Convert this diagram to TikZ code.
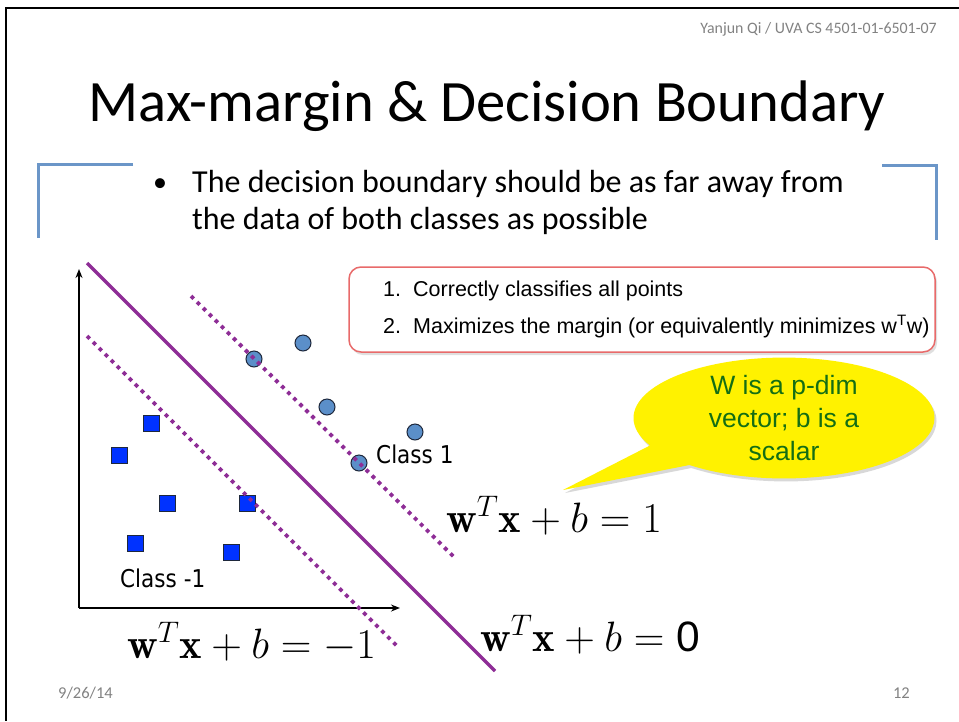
\documentclass[tikz,border=0pt]{standalone}
\usepackage{fix-cm}
\usepackage{fontspec}
\newfontfamily\calibri{Carlito}
\newfontfamily\arialf{Liberation Sans}
\newfontfamily\verdanaf[FakeStretch=0.88]{DejaVu Sans}
\usetikzlibrary{shapes.callouts,shadows,arrows.meta}
\definecolor{purp}{RGB}{142,45,150}
\definecolor{steel}{RGB}{91,143,201}
\definecolor{dotline}{RGB}{30,40,60}
\definecolor{sqblue}{RGB}{0,50,255}
\definecolor{brk}{RGB}{107,150,200}
\definecolor{redb}{RGB}{232,106,106}
\definecolor{cgreen}{RGB}{20,110,20}
\definecolor{graytxt}{RGB}{130,130,130}
\tikzset{
  circpt/.style={circle, draw=dotline, fill=steel, minimum size=16, inner sep=0pt, line width=1},
  sqpt/.style={rectangle, draw=dotline, fill=sqblue, minimum size=16, inner sep=0pt, line width=0.6},
  margin/.style={purp, line width=3.8, dash pattern=on 3.8pt off 4.7pt},
  bracket/.style={brk, line width=3},
  axis/.style={line width=1.5, -{Stealth[length=9,width=7]}},
  eq/.style={anchor=base west, inner sep=0pt, font=\fontsize{42.5}{46}\selectfont},
  cls/.style={anchor=base west, inner sep=0pt, font=\verdanaf\fontsize{24.5}{28}\selectfont},
  boxtxt/.style={anchor=base west, inner sep=0pt, font=\arialf\fontsize{21.5}{24}\selectfont},
  foot/.style={inner sep=0pt, text=graytxt, font=\calibri\fontsize{16.5}{18}\selectfont}
}
\begin{document}
\begin{tikzpicture}[x=1pt,y=-1pt]
\useasboundingbox (0,0) rectangle (959,721);
\fill[white] (0,0) rectangle (959,721);
% slide frame
\coordinate (ftr) at (959,8);
\coordinate (ftl) at (6,8);
\coordinate (fbl) at (6,721);
\draw[line width=2.5] (ftr) -- (ftl) -- (fbl);
% header
\node[foot, anchor=base east, font=\calibri\fontsize{15.9}{18}\selectfont] (hdr) at (937,33) {Yanjun Qi / UVA CS 4501-01-6501-07};
% title
\node[anchor=base, inner sep=0pt, font=\calibri\fontsize{58.6}{62}\selectfont] (title) at (487,121) {Max-margin \& Decision Boundary};
% brackets
\coordinate (lb1) at (133,164); \coordinate (lb2) at (38,164); \coordinate (lb3) at (38,238);
\coordinate (rb1) at (882,165); \coordinate (rb2) at (936,165); \coordinate (rb3) at (936,240);
\draw[bracket] (lb1) -- (lb2) -- (lb3);
\draw[bracket] (rb1) -- (rb2) -- (rb3);
% bullet
\node[anchor=base, inner sep=0pt, font=\calibri\fontsize{28}{36}\selectfont] (bul) at (160,191) {•};
\node[anchor=base west, inner sep=0pt, font=\calibri\fontsize{32}{36}\selectfont] (bl1) at (192,192) {The decision boundary should be as far away from};
\node[anchor=base west, inner sep=0pt, font=\calibri\fontsize{32}{36}\selectfont] (bl2) at (192,229) {the data of both classes as possible};
% criteria box
\node[draw=redb, line width=1.5, rounded corners=12, fill=white,
      drop shadow={opacity=0.25, shadow xshift=2pt, shadow yshift=-3pt},
      minimum width=586, minimum height=85] (crit) at (642,309.5) {};
\node[boxtxt] (n1) at (383,296) {1.};
\node[boxtxt] (t1) at (413,296) {Correctly classifies all points};
\node[boxtxt] (n2) at (383,333) {2.};
\node[boxtxt] (t2) at (413,333) {Maximizes the margin (or equivalently minimizes w\textsuperscript{T}w)};
% callout
\coordinate (tip) at (563,490);
\node[ellipse callout, fill=yellow, draw=none, minimum width=301, minimum height=107,
      callout absolute pointer={(tip)}, callout pointer arc=24,
      drop shadow={opacity=0.3, shadow xshift=2pt, shadow yshift=-3pt},
      text=cgreen, align=center, inner sep=0pt,
      font=\arialf\fontsize{26.5}{33}\selectfont] (bubble) at (784,418) {W is a p-dim\\vector; b is a\\scalar};
% axes
\coordinate (orig) at (79,608);
\coordinate (ytop) at (79,269);
\coordinate (xend) at (400,608);
\draw[axis] (orig) -- (ytop);
\draw[axis] (orig) -- (xend);
% class 1 points
\node[circpt] (c1) at (254,359) {};
\node[circpt] (c2) at (303,343) {};
\node[circpt] (c3) at (327,407) {};
\node[circpt] (c4) at (415,432) {};
\node[circpt] (c5) at (359,463) {};
% class -1 points
\node[sqpt] (s1) at (151,423) {};
\node[sqpt] (s2) at (119,455) {};
\node[sqpt] (s3) at (167,503) {};
\node[sqpt] (s4) at (247,503) {};
\node[sqpt] (s5) at (135,543) {};
\node[sqpt] (s6) at (231,552) {};
% boundary lines
\coordinate (d0a) at (87,263); \coordinate (d0b) at (495,671);
\coordinate (dpa) at (191,296); \coordinate (dpb) at (455,558);
\coordinate (dma) at (87,336); \coordinate (dmb) at (399,648);
\draw[purp, line width=3.5] (d0a) -- (d0b);
\draw[margin] (dpa) -- (dpb);
\draw[margin] (dma) -- (dmb);
% labels
\node[cls] (lc1) at (376,463) {Class 1};
\node[cls] (lcm) at (120,587) {Class -1};
\node[eq] (e1) at (446,532) {$\mathbf{w}^T\mathbf{x}+b=1$};
\node[eq] (e0) at (480,651) {$\mathbf{w}^T\mathbf{x}+b=\mbox{\arialf 0}$};
\node[eq] (em) at (127,658) {$\mathbf{w}^T\mathbf{x}+b=-1$};
% footer
\node[foot, anchor=base west] (date) at (58,698) {9/26/14};
\node[foot, anchor=base east] (page) at (910,698) {12};
\end{tikzpicture}
\end{document}
